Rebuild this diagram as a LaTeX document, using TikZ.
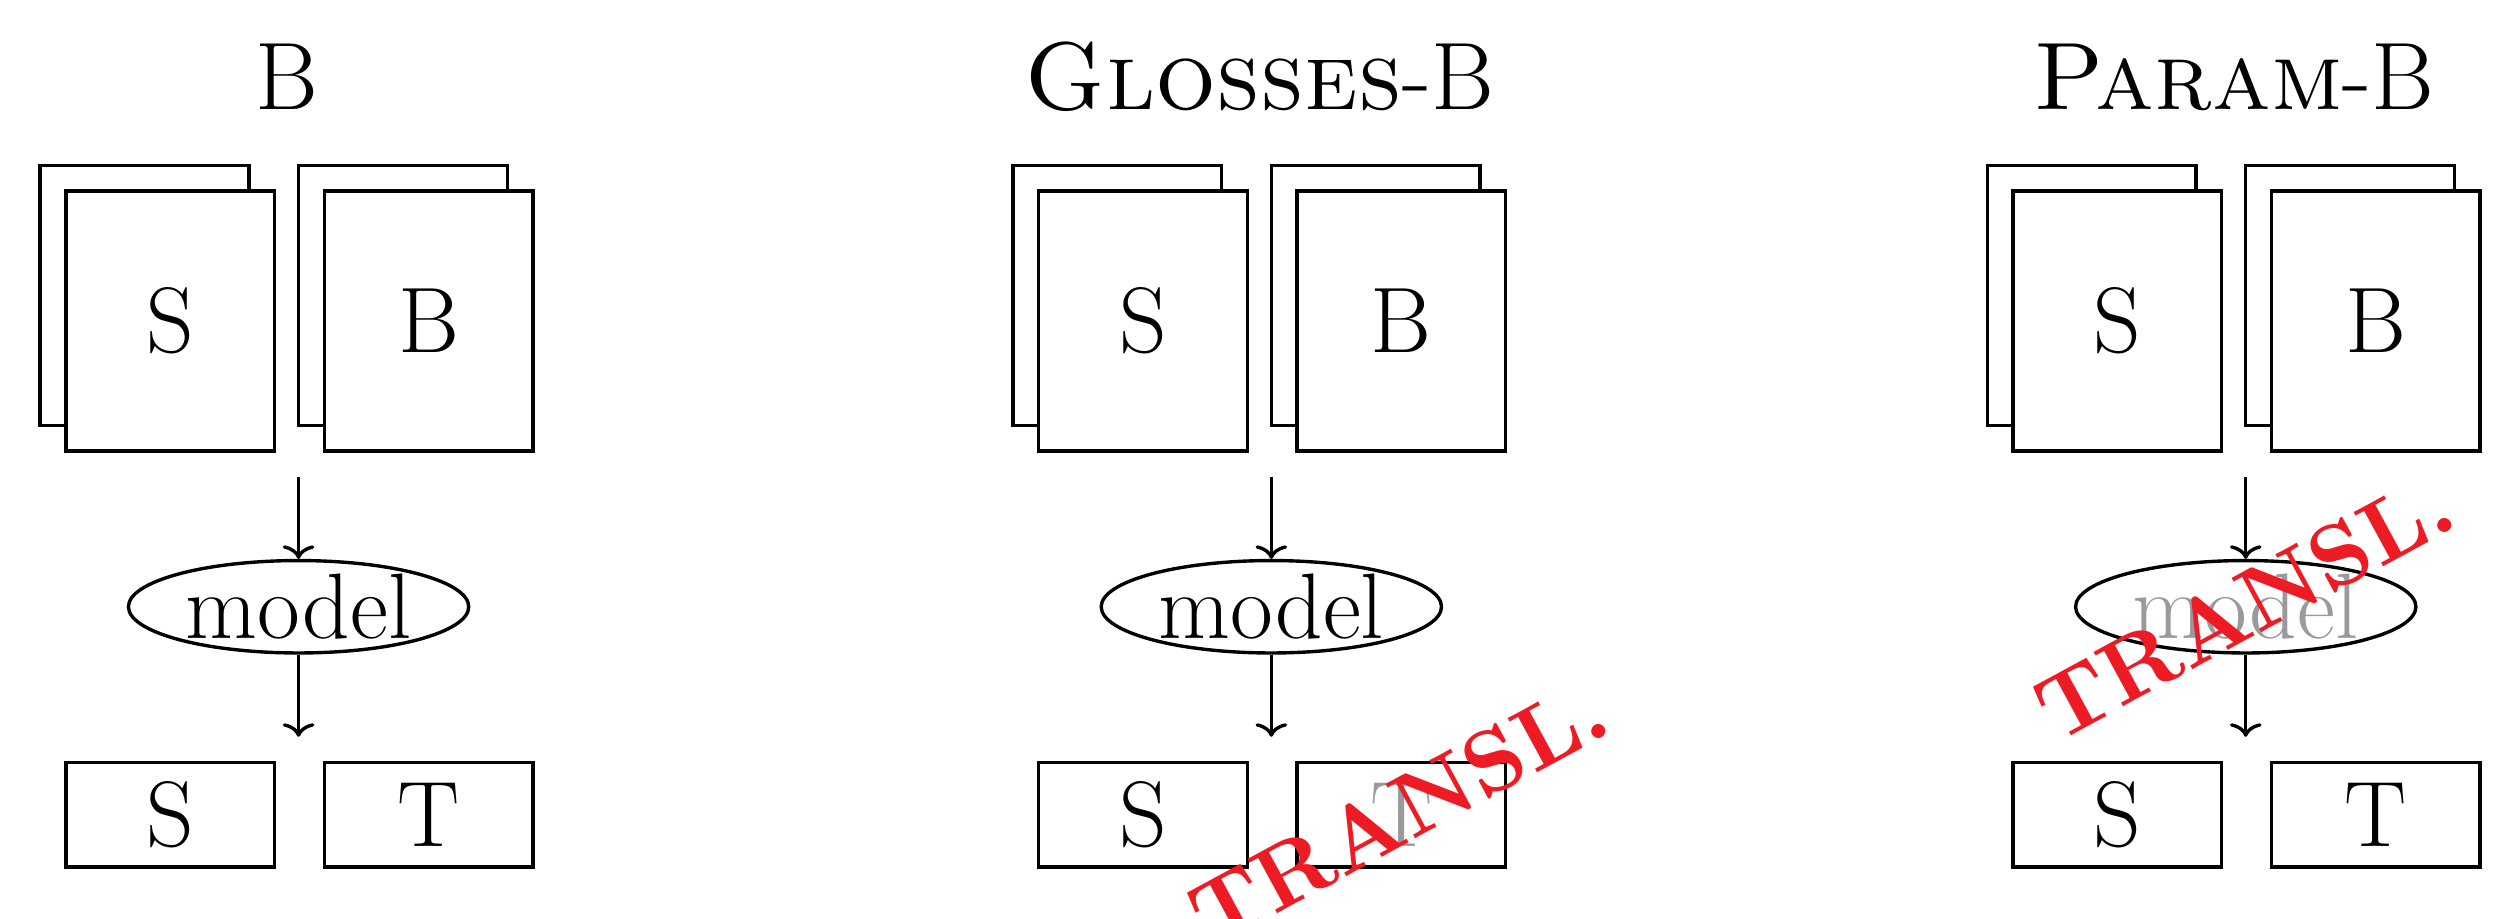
\documentclass[tikz,border=0pt]{standalone}
\usepackage{fontspec}
\usepackage{tikz}
\usetikzlibrary{arrows.meta,shapes.geometric,shadows}
\newfontfamily\stampfont[Extension=.otf]{lmroman10-bold}
\definecolor{fade}{HTML}{9A9A9E}
\definecolor{stampred}{HTML}{ED1C24}
\tikzset{
  doc/.style={draw, fill=white, line width=0.6pt, minimum width=1.30cm, minimum height=1.62cm,
    copy shadow={shadow xshift=-0.16cm, shadow yshift=0.16cm}},
  outbox/.style={draw, line width=0.6pt, minimum width=1.30cm, minimum height=0.65cm},
  model/.style={draw, ellipse, line width=0.6pt, inner sep=0pt, minimum width=2.12cm, minimum height=0.55cm},
  flow/.style={line width=0.6pt, -{To[length=2.4pt,width=5.6pt]}},
  ttl/.style={anchor=base, font=\fontsize{17}{20}\selectfont},
  stamp/.style={text=stampred, font=\fontsize{16}{19}\stampfont, rotate=28.5, inner sep=0pt},
}

\begin{document}
\begin{tikzpicture}[font=\fontsize{16.5}{19}\selectfont]
  \useasboundingbox (0,0) rectangle (15.68,5.72);
  \clip (0,0) rectangle (15.68,5.72);
  % the three set-ups side by side
  \foreach \i/\dx/\ttl/\mcol/\tcol in {1/0/{B}/black/black,
      2/6.06/{\textsc{Glosses}-B}/black/fade,
      3/12.13/{\textsc{Param}-B}/fade/black}{
    \begin{scope}[xshift=\dx cm]
      \node[ttl] (title\i) at (1.785,5.04) {\ttl};
      % training data
      \node[doc] (docS\i) at (1.06,3.72) {S};
      \node[doc] (docB\i) at (2.67,3.72) {B};
      \coordinate (in\i) at (1.86,2.75);
      \node[model, text=\mcol] (model\i) at (1.86,1.94) {model};
      \coordinate (out\i) at (1.86,1.13);
      % output
      \node[outbox] (outS\i) at (1.06,0.645) {S};
      \node[outbox, text=\tcol] (outT\i) at (2.67,0.645) {T};
      \draw[flow] (in\i) -- (model\i.north);
      \draw[flow] (model\i.south) -- (out\i);
    \end{scope}
  }
  % stamps
  \node[stamp] (stampT) at ([shift={(-0.02,0.01)}]outT2) {TRANSL.};
  \node[stamp] (stampM) at ([shift={(-0.01,0)}]model3) {TRANSL.};
\end{tikzpicture}
\end{document}
